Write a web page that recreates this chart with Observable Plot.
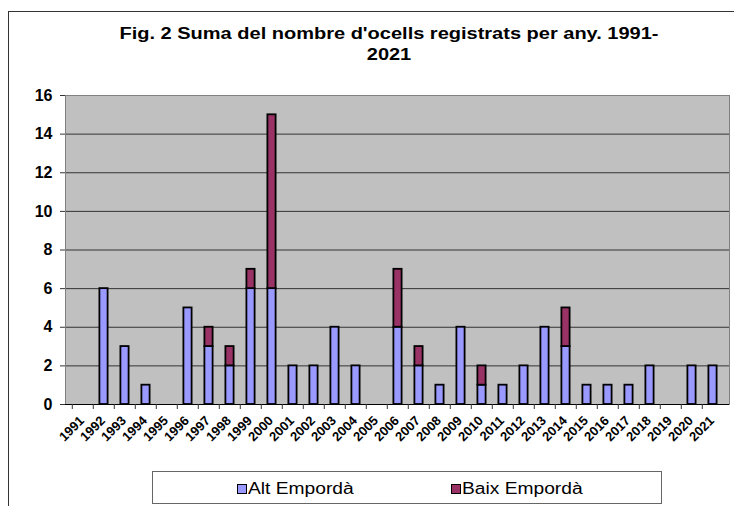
<!DOCTYPE html>
<html>
<head>
<meta charset="utf-8">
<script src="https://cdn.jsdelivr.net/npm/d3@7"></script>
<script src="https://cdn.jsdelivr.net/npm/@observablehq/plot@0.6"></script>
<style>
  html, body { margin: 0; padding: 0; background: #fff; overflow: hidden; }
  #wrap { position: relative; width: 734px; height: 506px; overflow: hidden; font-family: "Liberation Sans", Arial, sans-serif; }
  #border { position: absolute; left: 8px; top: 11px; width: 800px; height: 600px; border: 1px solid #333; box-sizing: border-box; pointer-events: none; }
  #title { position: absolute; left: 0; top: 23px; width: 778px; text-align: center; font-weight: bold; font-size: 16px; line-height: 21px; color: #000; transform: scaleX(1.25); transform-origin: 389px 0; }
  #chart { position: absolute; left: 0; top: 0; }
  #legend { position: absolute; left: 152px; top: 471px; width: 510px; height: 33px; border: 1px solid #666; box-sizing: border-box; background: #fff; }
  .item { position: absolute; top: 7px; font-size: 16px; line-height: 20px; color: #000; transform-origin: left center; }
  .sw { position: absolute; width: 8px; height: 8px; border: 1px solid #000; top: 12px; }
</style>
</head>
<body>
<div id="wrap">
  <div id="chart"></div>
  <div id="border"></div>
  <div id="title">Fig. 2 Suma del nombre d'ocells registrats per any. 1991-<br>2021</div>
  <div id="legend"></div>
</div>
<script>
const years = ["1991","1992","1993","1994","1995","1996","1997","1998","1999","2000","2001","2002","2003","2004","2005","2006","2007","2008","2009","2010","2011","2012","2013","2014","2015","2016","2017","2018","2019","2020","2021"];
const altEmporda  = [0,6,3,1,0,5,3,2,6,6,2,2,4,2,0,4,2,1,4,1,1,2,4,3,1,1,1,2,0,2,2];
const baixEmporda = [0,0,0,0,0,0,1,1,1,9,0,0,0,0,0,3,1,0,0,1,0,0,0,2,0,0,0,0,0,0,0];
const seriesNames = ["Alt Empordà", "Baix Empordà"];
const seriesColors = ["#9999FF", "#993366"];
const yTicks = [0,2,4,6,8,10,12,14,16];

const data = [];
years.forEach((yr, i) => {
  data.push({year: yr, series: seriesNames[0], value: altEmporda[i]});
  data.push({year: yr, series: seriesNames[1], value: baixEmporda[i]});
});
const nonZero = data.filter(d => d.value > 0);

const W = 734, H = 450, ML = 65, MR = 5, MT = 95, MB = 46;
const step = (W - ML - MR) / years.length;

const chart = Plot.plot({
  width: W, height: H,
  marginLeft: ML, marginRight: MR, marginTop: MT, marginBottom: MB,
  style: {background: "transparent", fontFamily: "'Liberation Sans', Arial, sans-serif", color: "#000", overflow: "visible"},
  x: {type: "band", domain: years, padding: 0, label: null, axis: null},
  y: {domain: [0, 16], label: null},
  color: {domain: seriesNames, range: seriesColors},
  marks: [
    Plot.frame({fill: "#C0C0C0", stroke: null}),
    Plot.gridY(yTicks, {stroke: "#333", strokeOpacity: 1, strokeWidth: 1}),
    Plot.barY(nonZero, {x: "year", y: "value", fill: "series", stroke: "#000", strokeWidth: 1.8, insetLeft: 6.4, insetRight: 6.4, order: seriesNames}),
    Plot.frame({stroke: "#808080", strokeWidth: 1}),
    Plot.ruleY([0], {stroke: "#000", strokeWidth: 1}),
    Plot.axisY(yTicks, {tickSize: 5, tickPadding: 8, fontSize: 16, fontWeight: "bold", stroke: "#333", label: null, tickFormat: d => String(d)}),
    Plot.axisX({tickSize: 5, dx: -step / 2, stroke: "#333", tickFormat: () => "", label: null}),
    Plot.text(years, {x: d => d, text: d => d, frameAnchor: "bottom", rotate: -45, textAnchor: "end", lineAnchor: "middle", dx: -1, dy: 14, fontSize: 13, fontWeight: "bold", fill: "#000"})
  ]
});
document.getElementById("chart").appendChild(chart);

const legend = document.getElementById("legend");
const legendPos = [{sw: 84, tx: 95}, {sw: 298, tx: 309}];
seriesNames.forEach((name, i) => {
  const sw = document.createElement("div");
  sw.className = "sw";
  sw.style.left = legendPos[i].sw + "px";
  sw.style.background = seriesColors[i];
  legend.appendChild(sw);
  const t = document.createElement("div");
  t.className = "item";
  t.style.left = legendPos[i].tx + "px";
  t.style.transform = "scaleX(1.2)";
  t.textContent = name;
  legend.appendChild(t);
});
</script>
</body>
</html>
